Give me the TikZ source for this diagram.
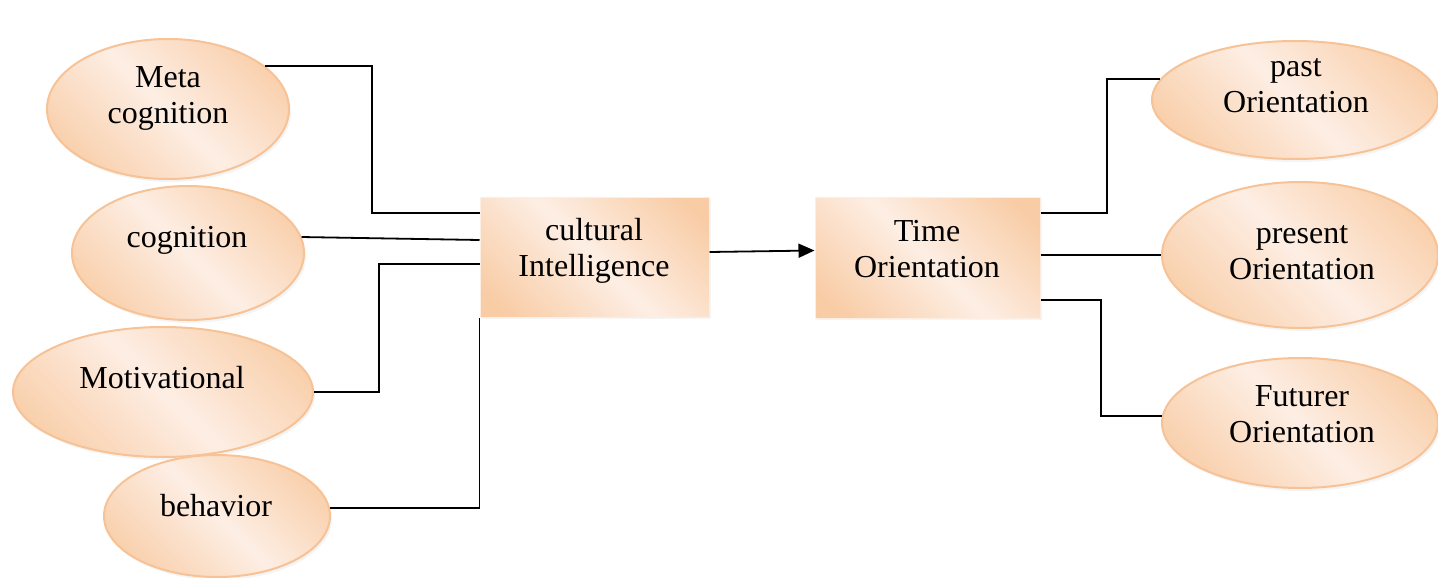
\documentclass[tikz,border=0pt]{standalone}
\usepackage{fontspec}
\setmainfont{Liberation Serif}
\usetikzlibrary{shapes.geometric,arrows.meta,shadows}

\definecolor{peachdark}{RGB}{248,204,165}
\definecolor{peachmid}{RGB}{251,222,198}
\definecolor{peachlight}{RGB}{253,238,228}
\definecolor{peachedge}{RGB}{246,194,150}
\pgfdeclarehorizontalshading{peachband}{100bp}{%
  color(0bp)=(peachdark); color(20bp)=(peachdark); color(36bp)=(peachmid);
  color(50bp)=(peachlight); color(64bp)=(peachmid);
  color(80bp)=(peachdark); color(100bp)=(peachdark)}

\tikzset{
  oval/.style={ellipse, draw=peachedge, line width=2pt, shading=peachband,
    shading angle=45, inner sep=0pt,
    drop shadow={shadow xshift=2pt, shadow yshift=-3pt, opacity=0.09}},
  block/.style={rectangle, draw=peachlight, line width=1pt, shading=peachband,
    shading angle=45, inner sep=0pt,
    drop shadow={shadow xshift=2pt, shadow yshift=-2pt, opacity=0.08}},
  label/.style={font=\fontsize{32}{36}\selectfont, align=center, inner sep=0pt},
  wire/.style={draw=black, line width=1.8pt},
  flow/.style={wire, -{Triangle[length=16pt,width=14pt]}}
}

\begin{document}
\begin{tikzpicture}[x=1pt, y=-1pt]
  \useasboundingbox (0,0) rectangle (1438,578);

  % left group of dimensions
  \node[oval, minimum width=242pt, minimum height=140pt] (meta) at (168,109) {};
  \node[oval, minimum width=232pt, minimum height=134pt] (cog)  at (188,253) {};
  \node[oval, minimum width=300pt, minimum height=130pt] (mot)  at (163,392) {};
  \node[oval, minimum width=226pt, minimum height=122pt] (beh)  at (217,516) {};

  \node[label] (metaT) at (168,98)  {Meta\\cognition};
  \node[label] (cogT)  at (187,240) {cognition};
  \node[label] (motT)  at (162,378) {Motivational};
  \node[label] (behT)  at (216,506) {behavior};

  % the two central boxes
  \node[block, minimum width=229pt, minimum height=120pt] (ci) at (594.5,257) {};
  \node[block, minimum width=225pt, minimum height=121pt] (to) at (927.5,257.5) {};
  \node[label] (ciT) at (594,251) {cultural\\Intelligence};
  \node[label] (toT) at (927,249) {Time\\Orientation};

  % right group of orientations
  \node[oval, minimum width=286pt, minimum height=118pt] (past) at (1295,100) {};
  \node[oval, minimum width=276pt, minimum height=146pt] (pres) at (1300,255) {};
  \node[oval, minimum width=276pt, minimum height=130pt] (fut)  at (1300,423) {};

  \node[label] (pastT) at (1296,86)  {past\\Orientation};
  \node[label] (presT) at (1302,253) {present\\Orientation};
  \node[label] (futT)  at (1302,414) {Futurer\\Orientation};

  % bend columns
  \coordinate (bMeta) at (372,0);
  \coordinate (bMot)  at (379,0);
  \coordinate (bPast) at (1107,0);
  \coordinate (bFut)  at (1101,0);

  % connectors into cultural Intelligence
  \draw[wire] (meta.24) -- (meta.24 -| bMeta) |- ([yshift=44pt]ci.west);
  \draw[wire] (cog.8) -- ([yshift=17pt]ci.west);
  \draw[wire] (mot.east) -- (mot.east -| bMot) |- ([yshift=-7pt]ci.west);
  \draw[wire] (beh.4) -| (ci.south west);

  % main arrow
  \draw[flow] ([yshift=5pt]ci.east) -- ([yshift=7pt]to.west);

  % connectors out of Time Orientation
  \draw[wire] ([yshift=44.5pt]to.east) -- ([yshift=44.5pt]to.east -| bPast) |- (past.171);
  \draw[wire] (pres.west -| to.east) -- (pres.west);
  \draw[wire] ([yshift=-42.5pt]to.east) -- ([yshift=-42.5pt]to.east -| bFut) |- (fut.177);
\end{tikzpicture}
\end{document}
